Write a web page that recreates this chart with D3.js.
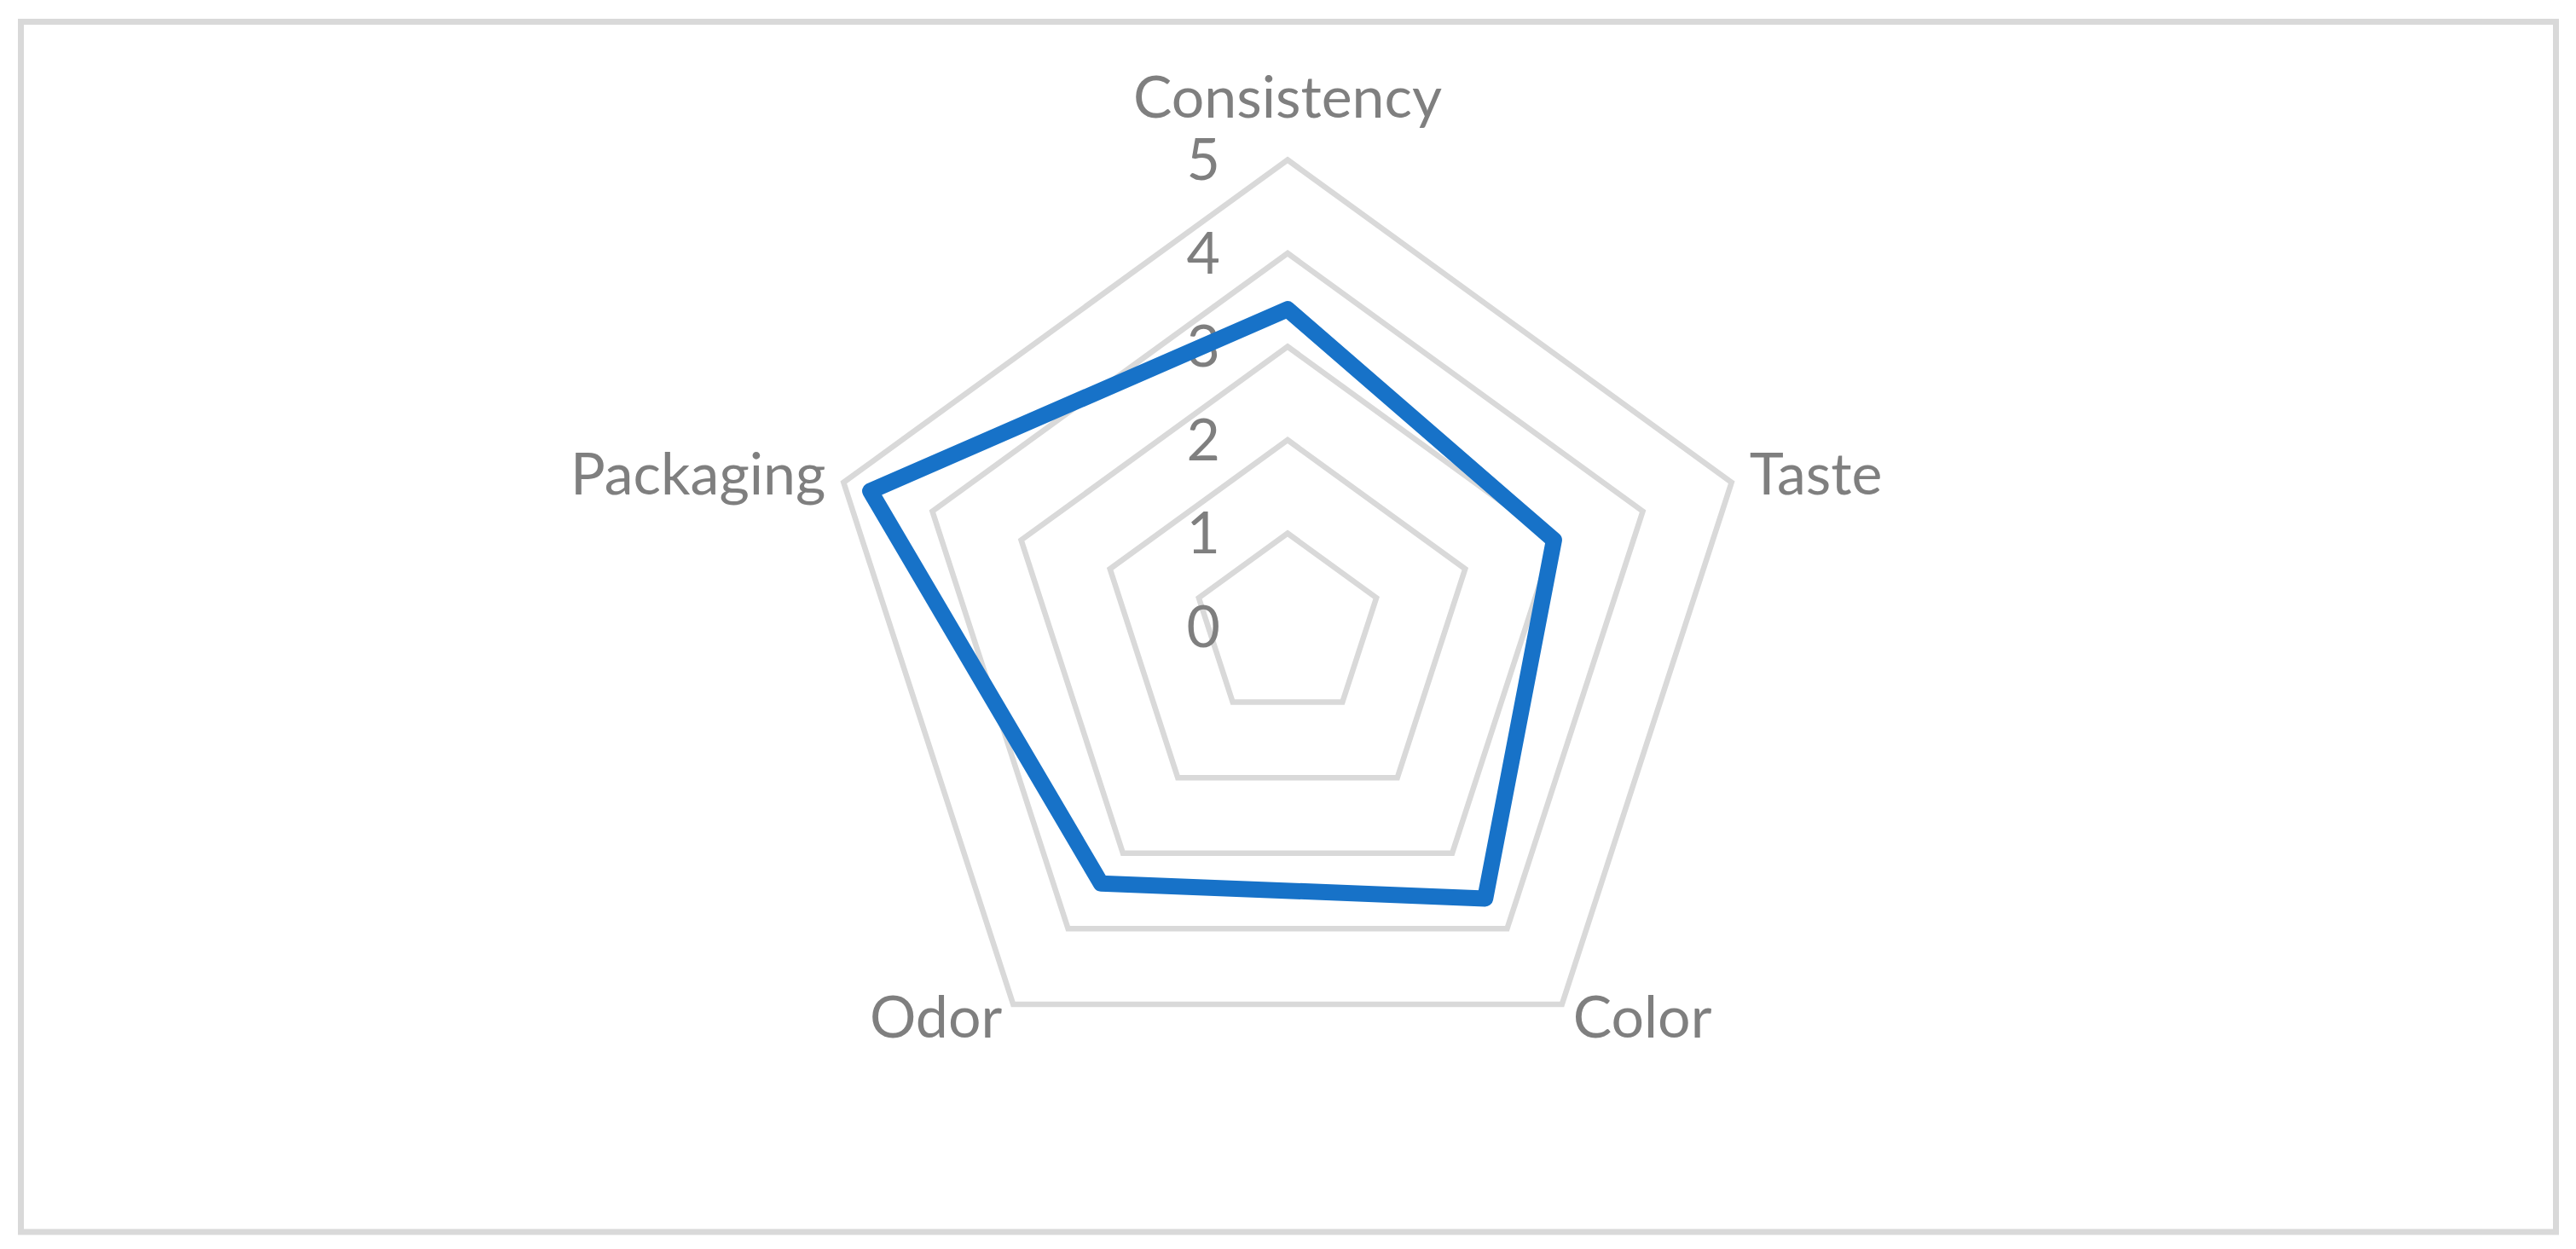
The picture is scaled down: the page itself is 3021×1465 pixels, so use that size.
<!DOCTYPE html>
<html>
<head>
<meta charset="utf-8">
<script src="https://cdnjs.cloudflare.com/ajax/libs/d3/7.8.5/d3.min.js"></script>
<style>
  body { margin: 0; background: #fff; }
  #graph { width: 3021px; height: 1465px; }
  text { font-family: Lato, "Liberation Sans", sans-serif; fill: #7f7f7f; }
</style>
</head>
<body>
<div id="graph"></div>
<script>
// chart data
var categories = ["Consistency", "Taste", "Color", "Odor", "Packaging"]
var values = [3.4, 3.0, 3.6, 3.4, 4.7]
var tickValues = [0, 1, 2, 3, 4, 5]

var width = 3021, height = 1465
var cx = 1510, cy = 735
var radius = 547.5
var fontSize = 68

var svg = d3.select("#graph").append("svg")
    .attr("width", width)
    .attr("height", height)

// outer frame
svg.append("rect")
    .attr("x", 24.5)
    .attr("y", 25.5)
    .attr("width", 2973)
    .attr("height", 1419.5)
    .attr("fill", "#fff")
    .attr("stroke", "#d9d9d9")
    .attr("stroke-width", 7)

var chartLayer = svg.append("g").classed("chartLayer", true)
    .attr("transform", "translate(" + [cx, cy] + ")")

var r = d3.scaleLinear().domain([0, 5]).range([0, radius])
var angle = d3.scaleLinear().domain([0, categories.length]).range([0, 2 * Math.PI])

var radial = d3.lineRadial()
    .angle(function(d, i) { return angle(i) })
    .radius(function(d) { return r(d) })
    .curve(d3.curveLinearClosed)

// grid rings (level 0 is just the centre)
chartLayer.append("g")
    .attr("class", "grid")
    .selectAll("path")
    .data(tickValues.filter(function(t) { return t > 0 }))
    .enter().append("path")
    .attr("d", function(t) { return radial(categories.map(function() { return t })) })
    .attr("fill", "none")
    .attr("stroke", "#d9d9d9")
    .attr("stroke-width", 6.5)
    .attr("stroke-linejoin", "miter")

// tick labels along the first axis
chartLayer.append("g")
    .attr("class", "ticks")
    .selectAll("text")
    .data(tickValues)
    .enter().append("text")
    .attr("x", -79)
    .attr("y", function(t) { return -r(t) })
    .attr("dy", "0.35em")
    .attr("text-anchor", "end")
    .attr("font-size", fontSize + "px")
    .text(function(t) { return t })

// series
chartLayer.append("path")
    .datum(values)
    .attr("d", radial)
    .attr("fill", "none")
    .attr("stroke", "#1772c8")
    .attr("stroke-width", 19)
    .attr("stroke-linejoin", "round")

// category labels round the outside
function labelPos(i) {
    var a = angle(i) - Math.PI / 2
    var px = Math.cos(a) * radius, py = Math.sin(a) * radius
    var pad = 22
    if (Math.sin(a) < -0.9) return { x: px, y: py - 50, anchor: "middle" }
    return {
        x: px + pad * Math.cos(a),
        y: py + pad * Math.sin(a) + 21,
        anchor: Math.cos(a) > 0 ? "start" : "end"
    }
}

chartLayer.append("g")
    .attr("class", "labels")
    .selectAll("text")
    .data(categories)
    .enter().append("text")
    .attr("x", function(d, i) { return labelPos(i).x })
    .attr("y", function(d, i) { return labelPos(i).y })
    .attr("text-anchor", function(d, i) { return labelPos(i).anchor })
    .attr("font-size", fontSize + "px")
    .text(function(d) { return d })
</script>
</body>
</html>
